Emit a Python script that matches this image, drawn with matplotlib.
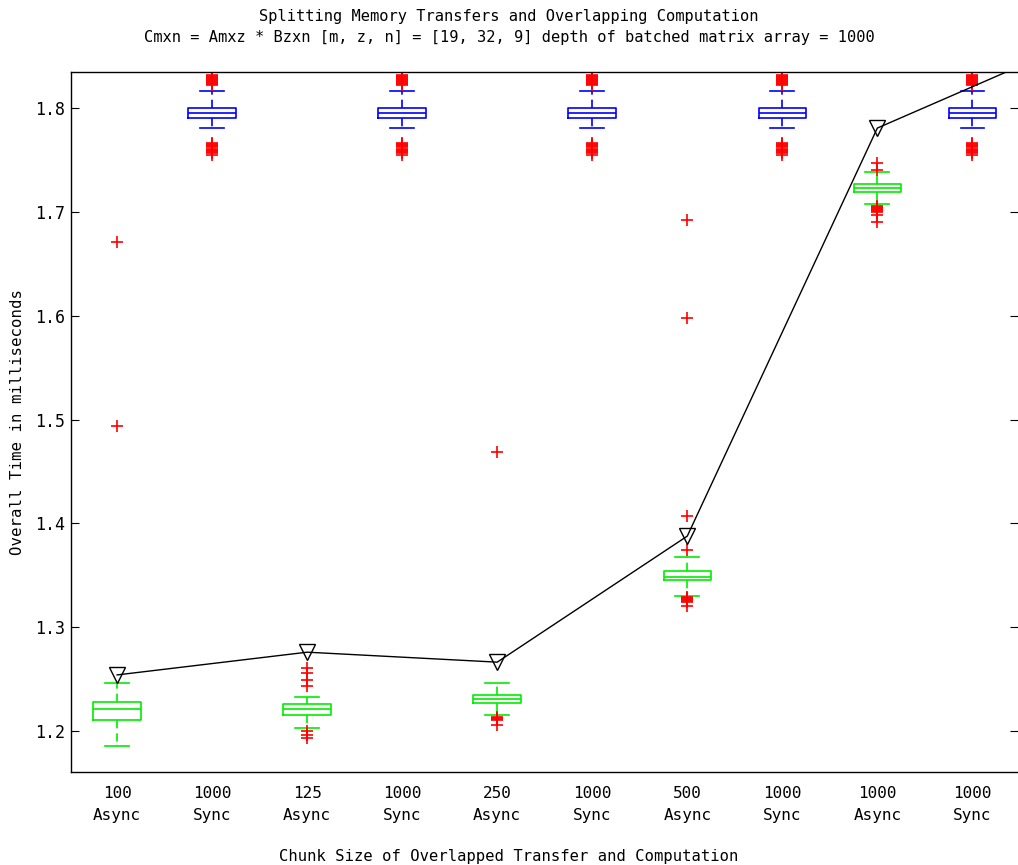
import matplotlib
matplotlib.use("Agg")
import matplotlib.pyplot as plt

# ---- data ----
categories = ["100\nAsync", "1000\nSync", "125\nAsync", "1000\nSync", "250\nAsync",
              "1000\nSync", "500\nAsync", "1000\nSync", "1000\nAsync", "1000\nSync"]

async_pos = [1, 3, 5, 7, 9]
async_med = [1.2212, 1.2212, 1.2308, 1.3485, 1.7226]
async_q1 = [1.2106, 1.2151, 1.2267, 1.3453, 1.7188]
async_q3 = [1.2276, 1.2260, 1.2347, 1.3542, 1.7268]
async_whislo = [1.1858, 1.2026, 1.2154, 1.3302, 1.7072]
async_whishi = [1.2465, 1.2330, 1.2465, 1.3671, 1.7383]
async_fliers = [
    [1.671, 1.494],
    [1.2605, 1.2559, 1.2492, 1.2434, 1.2000, 1.1965, 1.1935],
    [1.469, 1.2135, 1.2125, 1.2115, 1.2105, 1.2058],
    [1.692, 1.598, 1.4072, 1.3742, 1.3289, 1.3280, 1.3270, 1.3260, 1.3250, 1.3241, 1.3202],
    [1.7470, 1.7400, 1.7060, 1.7050, 1.7040, 1.7030, 1.7020, 1.7010, 1.7000, 1.6970, 1.6900],
]

sync_pos = [2, 4, 6, 8, 10]
sync_med = [1.7951] * 5
sync_q1 = [1.7900] * 5
sync_q3 = [1.8003] * 5
sync_whislo = [1.7810] * 5
sync_whishi = [1.8164] * 5
sync_fliers = [[1.8220, 1.8230, 1.8240, 1.8250, 1.8260, 1.8270, 1.8280, 1.8290, 1.8300,
                1.8310, 1.8320, 1.8350, 1.7660, 1.7650, 1.7640, 1.7630, 1.7620, 1.7610,
                1.7600, 1.7590, 1.7580, 1.7570, 1.7550]] * 5

line_x = [1, 3, 5, 7, 9, 11]
line_y = [1.254, 1.2759, 1.2663, 1.3877, 1.7807, 1.8603]

yticks = [1.2, 1.3, 1.4, 1.5, 1.6, 1.7, 1.8]

title = ("Splitting Memory Transfers and Overlapping Computation\n"
         "Cmxn = Amxz * Bzxn [m, z, n] = [19, 32, 9] depth of batched matrix array = 1000")
xlabel = "Chunk Size of Overlapped Transfer and Computation"
ylabel = "Overall Time in milliseconds"

# ---- plot ----
plt.rcParams['font.family'] = ['DejaVu Sans Mono']
fig = plt.figure(figsize=(10.18, 8.65), dpi=100)
ax = fig.add_axes([71 / 1018, 1 - 772 / 865, 1 - 71 / 1018, (772 - 72) / 865])


def make_stats(med, q1, q3, lo, hi, fl):
    return [dict(med=m, q1=a, q3=b, whislo=l, whishi=h, fliers=f)
            for m, a, b, l, h, f in zip(med, q1, q3, lo, hi, fl)]


def draw(stats, pos, color):
    ax.bxp(stats, positions=pos, widths=0.5, manage_ticks=False,
           boxprops=dict(color=color, lw=1.2),
           medianprops=dict(color=color, lw=1.2),
           whiskerprops=dict(color=color, lw=1.2, linestyle=(0, (5, 3))),
           capprops=dict(color=color, lw=1.2),
           flierprops=dict(marker='+', markeredgecolor='#ff0000', markersize=9,
                           markeredgewidth=1.2, linestyle='none'))


draw(make_stats(async_med, async_q1, async_q3, async_whislo, async_whishi, async_fliers),
     async_pos, '#00ee00')
draw(make_stats(sync_med, sync_q1, sync_q3, sync_whislo, sync_whishi, sync_fliers),
     sync_pos, '#0000ff')

ax.plot(line_x, line_y, color='black', lw=1.0, zorder=5)
ax.plot(line_x[:5], line_y[:5], linestyle='none', marker='v', markersize=11,
        markerfacecolor='none', markeredgecolor='black', markeredgewidth=1.0, zorder=6)

ax.set_xlim(0.515, 10.48)
ax.set_ylim(1.1605, 1.8347)
ax.set_xticks(range(1, 11))
ax.set_xticklabels(categories, fontsize=11.5)
for t in ax.get_xticklabels():
    t.set_linespacing(1.6)
ax.tick_params(axis='x', length=0, pad=10)
ax.set_yticks(yticks)
ax.set_yticklabels([f"{v:.1f}" for v in yticks], fontsize=12)
ax.tick_params(axis='y', direction='in', length=6, right=True, pad=4.5)

for s in ax.spines.values():
    s.set_color('black')
    s.set_linewidth(1.0)
ax.spines['right'].set_visible(False)

fig.text(0.5, 1 - 27 / 865, title, ha='center', va='center', fontsize=11.1, linespacing=1.45)
fig.text(0.5, 1 - 856 / 865, xlabel, ha='center', va='center', fontsize=11.2)
fig.text(18 / 1018, 1 - 422 / 865, ylabel, ha='center', va='center', rotation=90, fontsize=11.3)

fig.savefig("out.png", dpi=100)
